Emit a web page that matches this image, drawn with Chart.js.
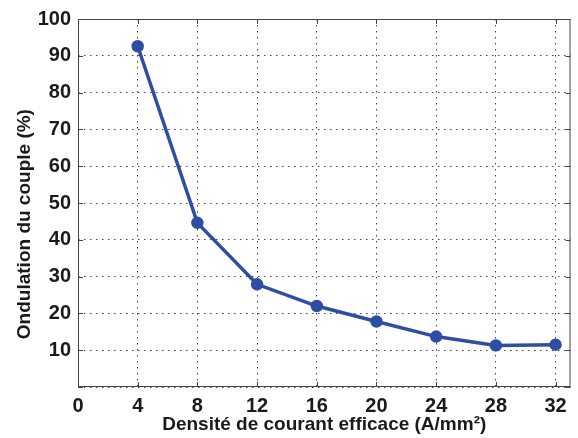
<!DOCTYPE html>
<html>
<head>
<meta charset="utf-8">
<script src="https://cdn.jsdelivr.net/npm/chart.js@4/dist/chart.umd.min.js"></script>
<style>
  html, body { margin: 0; padding: 0; background: #fff; }
  #wrap { width: 578px; height: 438px; }
</style>
</head>
<body>
<div id="wrap"><canvas id="chart"></canvas></div>
<script>
// Current density (A/mm²) and torque ripple (%)
const densities = [4, 8, 12, 16, 20, 24, 28, 32];
const ripple = [92.6, 44.6, 27.9, 22.0, 17.8, 13.7, 11.3, 11.5];

// x tick positions (axis itself runs to 33)
const xTicks = [0, 4, 8, 12, 16, 20, 24, 28, 32];

const xTitle = "Densité de courant efficace (A/mm²)";
const yTitle = "Ondulation du couple (%)";

const blue = "#2D4EA2";
const axisColor = "#444";

// Box around the plot + small inward ticks (matlab look)
const boxPlugin = {
    id: "box",
    afterDraw(chart) {
        const { ctx, chartArea: a, scales } = chart;
        ctx.save();
        ctx.strokeStyle = axisColor;
        ctx.lineWidth = 1;
        ctx.strokeRect(a.left + 0.5, a.top + 0.5, a.right - a.left - 1, a.bottom - a.top - 1);
        ctx.beginPath();
        scales.x.ticks.forEach((t) => {
            const px = Math.round(scales.x.getPixelForValue(t.value)) + 0.5;
            ctx.moveTo(px, a.bottom); ctx.lineTo(px, a.bottom - 5);
            ctx.moveTo(px, a.top); ctx.lineTo(px, a.top + 5);
        });
        scales.y.ticks.forEach((t) => {
            const py = Math.round(scales.y.getPixelForValue(t.value)) + 0.5;
            ctx.moveTo(a.left, py); ctx.lineTo(a.left + 5, py);
            ctx.moveTo(a.right, py); ctx.lineTo(a.right - 5, py);
        });
        ctx.stroke();
        ctx.restore();
    },
};

new Chart(document.getElementById("chart"), {
    type: "line",
    data: {
        datasets: [{
            data: densities.map((d, i) => ({ x: d, y: ripple[i] })),
            borderColor: blue,
            backgroundColor: blue,
            borderWidth: 3.5,
            pointRadius: 5,
            pointBorderWidth: 2.5,
            pointBackgroundColor: blue,
            pointBorderColor: blue,
            tension: 0,
        }],
    },
    options: {
        responsive: true,
        maintainAspectRatio: false,
        animation: false,
        layout: { padding: { top: 15, right: 1, left: 0, bottom: 0 } },
        plugins: { legend: { display: false }, tooltip: { enabled: false } },
        scales: {
            x: {
                type: "linear",
                min: 0,
                max: 33,
                afterBuildTicks: (scale) => {
                    scale.ticks = xTicks.map((v) => ({ value: v }));
                },
                afterFit: (scale) => { scale.height = 51; },
                ticks: {
                    padding: 7,
                    autoSkip: false,
                    maxRotation: 0,
                    color: "#1a1a1a",
                    font: { family: "Liberation Sans, Arial", size: 20, weight: "bold" },
                },
                grid: {
                    drawTicks: false,
                    color: "#444",
                    lineWidth: 1,
                },
                border: { display: false, dash: [1.5, 4.5] },
                title: {
                    display: true,
                    text: xTitle,
                    color: "#1a1a1a",
                    padding: { top: 0, bottom: 2 },
                    font: { family: "Liberation Sans, Arial", size: 19, weight: "bold" },
                },
            },
            y: {
                min: 0,
                max: 100,
                afterFit: (scale) => { scale.width = 78; },
                ticks: {
                    stepSize: 10,
                    padding: 7,
                    color: "#1a1a1a",
                    font: { family: "Liberation Sans, Arial", size: 20, weight: "bold" },
                    callback: (v) => (v === 0 ? "" : v),
                },
                grid: {
                    drawTicks: false,
                    color: "#444",
                    lineWidth: 1,
                },
                border: { display: false, dash: [1.5, 4.5] },
                title: {
                    display: true,
                    text: yTitle + "        ",
                    color: "#1a1a1a",
                    padding: { top: 13, bottom: 0 },
                    font: { family: "Liberation Sans, Arial", size: 19, weight: "bold" },
                },
            },
        },
    },
    plugins: [boxPlugin],
});
</script>
</body>
</html>
